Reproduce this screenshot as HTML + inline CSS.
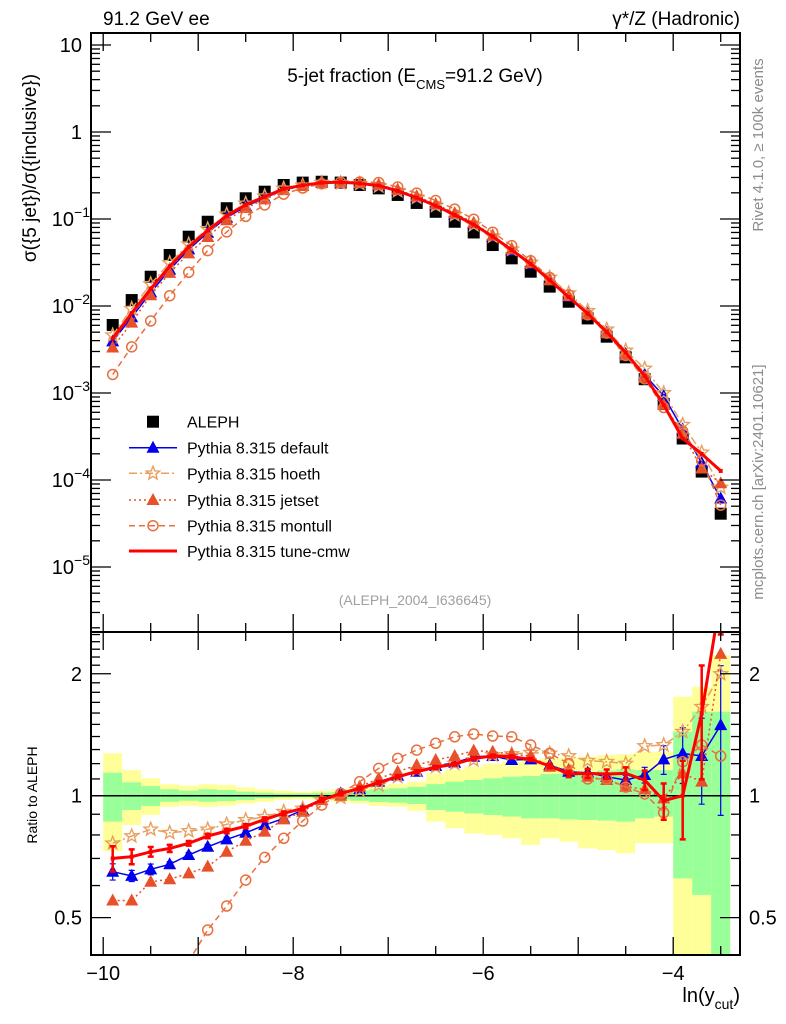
<!DOCTYPE html>
<html><head><meta charset="utf-8"><style>
html,body{margin:0;padding:0;background:#fff;}
svg{display:block;font-family:"Liberation Sans",sans-serif;}
</style></head><body>
<svg id="chart" width="786" height="1024" viewBox="0 0 786 1024" xmlns="http://www.w3.org/2000/svg">
<defs>
<clipPath id="clipTop"><rect x="91" y="33" width="649" height="599"/></clipPath>
<clipPath id="clipBot"><rect x="91" y="632" width="649" height="323"/></clipPath>
</defs>
<g id="bands" clip-path="url(#clipBot)"></g>
<g id="topg" clip-path="url(#clipTop)"></g>
<g id="botg" clip-path="url(#clipBot)"></g>
<g id="axes"></g>
<rect x="91" y="33" width="649" height="599" fill="none" stroke="#000" stroke-width="2"/>
<rect x="91" y="632" width="649" height="323" fill="none" stroke="#000" stroke-width="2"/>
<text x="103" y="25" font-size="19">91.2 GeV ee</text>
<text x="740" y="25" font-size="19" text-anchor="end">γ*/Z (Hadronic)</text>
<text x="415" y="82" font-size="19" text-anchor="middle">5-jet fraction (E<tspan font-size="13" dy="7">CMS</tspan><tspan dy="-7">=91.2 GeV)</tspan></text>
<text transform="translate(36,168) rotate(-90)" font-size="19" text-anchor="middle">σ({5 jet})/σ({inclusive})</text>
<text transform="translate(37,795) rotate(-90)" font-size="14" text-anchor="middle">Ratio to ALEPH</text>
<text x="740" y="1002" font-size="20" text-anchor="end">ln(y<tspan font-size="14" dy="7">cut</tspan><tspan dy="-7">)</tspan></text>
<text transform="translate(763,145) rotate(-90)" font-size="15" fill="#8c8c8c" text-anchor="middle">Rivet 4.1.0, ≥ 100k events</text>
<text transform="translate(763,482) rotate(-90)" font-size="15" fill="#8c8c8c" text-anchor="middle">mcplots.cern.ch [arXiv:2401.10621]</text>
<text x="415" y="605" font-size="14" fill="#a0a0a0" text-anchor="middle">(ALEPH_2004_I636645)</text>
<g id="legend"></g>
</svg>
<script>
const xCenters=[-9.9,-9.7,-9.5,-9.3,-9.1,-8.9,-8.7,-8.5,-8.3,-8.1,-7.9,-7.7,-7.5,-7.3,-7.1,-6.9,-6.7,-6.5,-6.3,-6.1,-5.9,-5.7,-5.5,-5.3,-5.1,-4.9,-4.7,-4.5,-4.3,-4.1,-3.9,-3.7,-3.5];
const aleph=[6.05e-3,0.0117,0.0217,0.0386,0.0626,0.093,0.133,0.173,0.206,0.246,0.262,0.268,0.262,0.246,0.225,0.189,0.153,0.121,0.093,0.070,0.0502,0.0353,0.0248,0.0167,0.0112,7.2e-3,4.44e-3,2.57e-3,1.44e-3,7.5e-4,3.0e-4,1.25e-4,4.1e-5];
const ratioDefault=[0.649,0.634,0.658,0.677,0.714,0.748,0.78,0.81,0.846,0.879,0.922,0.976,1.013,1.037,1.083,1.12,1.146,1.184,1.206,1.248,1.253,1.225,1.229,1.19,1.146,1.14,1.114,1.093,1.125,1.229,1.272,1.253,1.494];
const ratioHoeth=[0.763,0.795,0.826,0.81,0.818,0.826,0.85,0.871,0.887,0.913,0.93,0.976,0.99,1.033,1.062,1.114,1.157,1.179,1.2,1.225,1.26,1.267,1.277,1.272,1.253,1.22,1.213,1.2,1.326,1.334,1.439,1.658,1.998];
const ratioJetset=[0.551,0.551,0.613,0.622,0.643,0.668,0.727,0.774,0.815,0.874,0.913,0.976,1.0,1.052,1.103,1.146,1.19,1.225,1.253,1.292,1.284,1.267,1.253,1.179,1.161,1.114,1.093,1.052,1.037,0.985,1.135,1.083,2.24];
const ratioMontull=[0.27,0.29,0.31,0.34,0.39,0.466,0.534,0.619,0.704,0.785,0.866,0.948,1.013,1.083,1.168,1.236,1.296,1.347,1.398,1.42,1.404,1.398,1.334,1.272,1.2,1.1,1.1,1.05,1.01,0.908,1.213,1.334,1.253];
const ratioCmw=[0.70,0.707,0.727,0.741,0.763,0.795,0.818,0.841,0.874,0.905,0.93,0.976,1.013,1.043,1.077,1.114,1.146,1.175,1.197,1.236,1.253,1.248,1.229,1.184,1.131,1.135,1.131,1.135,1.093,0.972,1.0,1.597,3.1];
const errCmw=[0.05,0.03,0.02,0.015,0.01,0.01,0.01,0.01,0.01,0.01,0.01,0.01,0.01,0.01,0.01,0.01,0.01,0.01,0.01,0.01,0.01,0.01,0.01,0.015,0.02,0.03,0.03,0.04,0.06,0.1,0.22,0.5,0.6];
const errDefault=[0.03,0.02,0.02,0.01,0.01,0.01,0.01,0.01,0.01,0.01,0.01,0.01,0.01,0.01,0.01,0.01,0.01,0.01,0.01,0.01,0.01,0.01,0.01,0.01,0.01,0.02,0.02,0.03,0.05,0.1,0.2,0.3,0.6];
const bandYelHi=[1.272,1.157,1.104,1.067,1.058,1.067,1.062,1.048,1.037,1.029,1.023,1.029,1.037,1.048,1.062,1.068,1.083,1.135,1.157,1.179,1.2,1.213,1.225,1.236,1.243,1.248,1.26,1.267,1.284,1.284,1.756,1.858,2.224];
const bandGrnHi=[1.14,1.079,1.056,1.037,1.029,1.037,1.033,1.023,1.017,1.013,1.013,1.017,1.021,1.029,1.037,1.043,1.052,1.068,1.083,1.093,1.104,1.114,1.118,1.131,1.135,1.14,1.153,1.161,1.157,1.157,1.439,1.612,1.612];
const bandGrnLo=[0.863,0.922,0.943,0.966,0.972,0.966,0.970,0.976,0.985,0.989,0.991,0.985,0.979,0.972,0.965,0.961,0.954,0.922,0.913,0.904,0.896,0.888,0.879,0.879,0.874,0.871,0.868,0.863,0.879,0.888,0.625,0.569,0.3];
const bandYelLo=[0.730,0.846,0.896,0.939,0.945,0.939,0.945,0.957,0.966,0.976,0.979,0.976,0.966,0.957,0.943,0.939,0.918,0.863,0.831,0.807,0.8,0.785,0.756,0.785,0.770,0.741,0.734,0.721,0.763,0.763,0.3,0.3,0.3];
const xTicks=[-10,-8,-6,-4];
const xTickLabels=["\u221210","\u22128","\u22126","\u22124"];
const yDecades=[1,0,-1,-2,-3,-4,-5];
const ratioTicks=[0.5,1,2];
const ratioTickLabels=["0.5","1","2"];

const NS="http://www.w3.org/2000/svg";
const BW=0.2;
const TOP=33;
function X(x){return 103.2+(x+10)*95;}
function YT(v){return 132-87*Math.log10(v);}
function YR(r){return 795.7-405*Math.log10(r);}
function mk(tag,attrs,parent){const e=document.createElementNS(NS,tag);for(const k in attrs)e.setAttribute(k,attrs[k]);parent.appendChild(e);return e;}

const bands=document.getElementById('bands'),topg=document.getElementById('topg'),botg=document.getElementById('botg'),axes=document.getElementById('axes'),legend=document.getElementById('legend');

for(let i=0;i<xCenters.length;i++){
  const x0=X(xCenters[i]-BW/2),x1=X(xCenters[i]+BW/2);
  const y=mk('rect',{x:x0,y:YR(bandYelHi[i]),width:x1-x0,height:YR(bandYelLo[i])-YR(bandYelHi[i]),fill:'#ffff99'},bands);
  
  
  const g=mk('rect',{x:x0,y:YR(bandGrnHi[i]),width:x1-x0,height:YR(bandGrnLo[i])-YR(bandGrnHi[i]),fill:'#99ff99'},bands);
  
  
}
const one=mk('line',{x1:91,x2:740,y1:YR(1),y2:YR(1),stroke:'#000','stroke-width':1.5},bands);



function marker(type,color,cx,cy,parent,name){
  let e;
  if(type==='square'){e=mk('rect',{x:cx-6,y:cy-6,width:12,height:12,fill:'#000'},parent);}
  else if(type==='tri'){e=mk('path',{d:`M${cx},${cy-7}L${cx+6.5},${cy+5}L${cx-6.5},${cy+5}Z`,fill:color},parent);}
  else if(type==='circ'){e=mk('circle',{cx:cx,cy:cy,r:5,fill:'none',stroke:color,'stroke-width':1.5},parent);}
  else if(type==='star'){let d='';for(let k=0;k<10;k++){const a=-Math.PI/2+k*Math.PI/5;const r=k%2?3:7;d+=(k?'L':'M')+(cx+r*Math.cos(a)).toFixed(1)+','+(cy+r*Math.sin(a)).toFixed(1);}e=mk('path',{d:d+'Z',fill:'none',stroke:color,'stroke-width':1.4},parent);}
  else if(type==='small'){e=mk('rect',{x:cx-2,y:cy-2,width:4,height:4,fill:color},parent);}
  
  
}
const series=[
  {name:'default',ratio:ratioDefault,err:errDefault,color:'#0000ee',dash:'',w:1.5,m:'tri'},
  {name:'hoeth',ratio:ratioHoeth,err:null,color:'#e8a060',dash:'8,3,2,3',w:1.5,m:'star'},
  {name:'jetset',ratio:ratioJetset,err:null,color:'#e8502a',dash:'2,3',w:1.5,m:'tri'},
  {name:'montull',ratio:ratioMontull,err:null,color:'#e8703f',dash:'6,4',w:1.5,m:'circ'},
  {name:'tune-cmw',ratio:ratioCmw,err:errCmw,color:'#ff0000',dash:'',w:3,m:'small'}
];
aleph.forEach((v,i)=>marker('square','#000',X(xCenters[i]),YT(v),topg,'aleph-point'));
series.forEach(s=>{
  const ptsT=s.ratio.map((r,i)=>X(xCenters[i]).toFixed(1)+','+YT(r*aleph[i]).toFixed(1)).join(' ');
  const ptsB=s.ratio.map((r,i)=>X(xCenters[i]).toFixed(1)+','+YR(r).toFixed(1)).join(' ');
  [[topg,ptsT,'main'],[botg,ptsB,'ratio']].forEach(([g,pts,k])=>{
    const l=mk('polyline',{points:pts,fill:'none',stroke:s.color,'stroke-width':s.w,'stroke-dasharray':s.dash},g);
    
    
  });
  s.ratio.forEach((r,i)=>{
    const cx=X(xCenters[i]);
    if(s.err){
      const lo=YR(Math.max(r-s.err[i],0.3)),hi=YR(r+s.err[i]);
      const eb=mk('path',{d:`M${cx},${lo}V${hi}M${cx-3},${lo}H${cx+3}M${cx-3},${hi}H${cx+3}`,stroke:s.color,'stroke-width':s.w>2?2.5:1.2,fill:'none'},botg);
      
      
    }
    marker(s.m,s.color,cx,YR(r),botg,s.name+'-ratio-point');
    marker(s.m,s.color,cx,YT(r*aleph[i]),topg,s.name+'-point');
  });
});

function tick(x1,y1,x2,y2,name){const t=mk('line',{x1,y1,x2,y2,stroke:'#000','stroke-width':1.3},axes);}
for(let v=-10;v<=-3.4;v+=0.5){
  const px=X(v),maj=Number.isInteger(v),L=maj?18:9;
  tick(px,TOP,px,TOP+L,'x-tick');tick(px,632,px,632-L,'x-tick');
  tick(px,632,px,632+L,'x-tick');tick(px,955,px,955-L,'x-tick');
}
xTicks.forEach((v,i)=>{const t=mk('text',{x:X(v),y:980,'font-size':20,'text-anchor':'middle'},axes);t.textContent=xTickLabels[i];});
for(let d=-6;d<=1;d++){
  for(let m=1;m<10;m++){
    const v=m*Math.pow(10,d),py=YT(v);
    if(py<TOP||py>632)continue;
    const L=m===1?20:9;
    tick(91,py,91+L,py,'y-tick');tick(740,py,740-L,py,'y-tick');
  }
}
yDecades.forEach(d=>{
  const t=mk('text',{x:82,y:YT(Math.pow(10,d))+7,'font-size':20,'text-anchor':'end'},axes);
  
  
  if(d===1)t.textContent='10';else if(d===0)t.textContent='1';
  else{t.textContent='10';const s=document.createElementNS(NS,'tspan');s.setAttribute('dy','-9');s.setAttribute('font-size','14');s.textContent='\u2212'+(-d);t.appendChild(s);t.setAttribute('x',90);}
});
for(let r=0.4;r<=2.55;r+=0.1){
  const rr=Math.round(r*10)/10,py=YR(rr);
  if(py<632||py>955)continue;
  const maj=(rr===0.5||rr===1||rr===2),L=maj?20:9;
  tick(91,py,91+L,py,'ratio-tick');tick(740,py,740-L,py,'ratio-tick');
}
ratioTicks.forEach((v,i)=>{
  const a=mk('text',{x:82,y:YR(v)+7,'font-size':20,'text-anchor':'end'},axes);a.textContent=ratioTickLabels[i];
  
  
  const b=mk('text',{x:749,y:YR(v)+7,'font-size':20},axes);b.textContent=ratioTickLabels[i];
  
  
});

const legY=[421.7,447.7,473.3,500,525.7,551];
const legNames=['ALEPH','Pythia 8.315 default','Pythia 8.315 hoeth','Pythia 8.315 jetset','Pythia 8.315 montull','Pythia 8.315 tune-cmw'];
legNames.forEach((n,i)=>{
  const y=legY[i];
  if(i===0){marker('square','#000',153,y,legend,'legend-marker');}
  else{
    const s=series[i-1];
    const l=mk('line',{x1:129,x2:177,y1:y,y2:y,stroke:s.color,'stroke-width':s.w,'stroke-dasharray':s.dash},legend);
    
    
    if(s.m!=='small')marker(s.m,s.color,153,y,legend,'legend-marker');
  }
  const t=mk('text',{x:187,y:y+6,'font-size':16},legend);t.textContent=n;
  
  
});
</script>
</body></html>
